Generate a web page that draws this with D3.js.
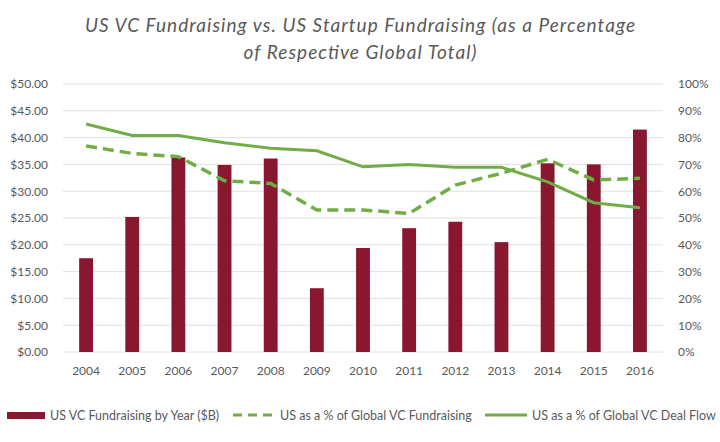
<!DOCTYPE html>
<html>
<head>
<meta charset="utf-8">
<script src="https://cdn.jsdelivr.net/npm/d3@7"></script>
<style>
  body { margin: 0; background: #fff; }
  svg { display: block; font-family: Lato, "Open Sans", sans-serif; }
</style>
</head>
<body>
<svg id="chart" width="720" height="442"></svg>
<script>
const years = ["2004", "2005", "2006", "2007", "2008", "2009", "2010", "2011", "2012", "2013", "2014", "2015", "2016"];
const vcFundraising = [17.5, 25.2, 36.3, 34.9, 36.1, 11.9, 19.4, 23.1, 24.3, 20.5, 35.2, 35.0, 41.5];
const pctGlobalFundraising = [76.9, 74.1, 72.9, 63.9, 62.9, 53.0, 53.0, 51.7, 62.3, 66.7, 71.9, 64.2, 64.8];
const pctGlobalDealFlow = [85.1, 80.8, 80.8, 78.1, 76.0, 75.1, 69.1, 70.0, 68.9, 68.9, 63.5, 55.7, 53.8];
const dollarTicks = [0, 5, 10, 15, 20, 25, 30, 35, 40, 45, 50];
const pctTicks = [0, 10, 20, 30, 40, 50, 60, 70, 80, 90, 100];
const titleLines = ["US VC Fundraising vs. US Startup Fundraising (as a Percentage", "of Respective Global Total)"];
const legendLabels = ["US VC Fundraising by Year ($B)", "US as a % of Global VC Fundraising", "US as a % of Global VC Deal Flow"];

const barColor = "#8a1730";
const green = "#70ad47";
const textColor = "#595959";

const margin = { top: 84, right: 57, bottom: 90, left: 63 };
const width = 720 - margin.left - margin.right;
const height = 442 - margin.top - margin.bottom;

const svg = d3.select("#chart");

// title: the original font is narrower, so stretch to the measured widths
const titleWidths = [550, 233];
svg.selectAll(".title")
  .data(titleLines)
  .enter()
  .append("text")
  .attr("class", "title")
  .attr("x", 360)
  .attr("y", (d, i) => 32 + i * 27)
  .attr("text-anchor", "middle")
  .attr("fill", textColor)
  .attr("textLength", (d, i) => titleWidths[i])
  .attr("lengthAdjust", "spacing")
  .style("font-style", "italic")
  .style("font-size", "19px")
  .text(d => d);

const g = svg.append("g").attr("transform", `translate(${margin.left},${margin.top})`);

const x = d3.scaleBand().domain(years).range([0, width]).paddingInner(0.7).paddingOuter(0.35);
const xPoint = d => x(d) + x.bandwidth() / 2;
const yLeft = d3.scaleLinear().domain([0, 50]).range([height, 0]);
const yRight = d3.scaleLinear().domain([0, 100]).range([height, 0]);

// gridlines
g.selectAll(".grid")
  .data(dollarTicks)
  .enter()
  .append("line")
  .attr("x1", 0)
  .attr("x2", width)
  .attr("y1", d => yLeft(d))
  .attr("y2", d => yLeft(d))
  .attr("stroke", "#e0e0e0")
  .attr("stroke-width", 1);

const styleAxis = sel => {
  sel.select(".domain").remove();
  sel.selectAll(".tick line").remove();
  sel.selectAll("text")
    .attr("fill", textColor)
    .style("font-size", "12px")
    .style("font-family", "Lato, 'Open Sans', sans-serif");
};

g.append("g")
  .call(d3.axisLeft(yLeft).tickValues(dollarTicks).tickFormat(d => "$" + d.toFixed(2)).tickSize(0).tickPadding(15))
  .call(styleAxis);

g.append("g")
  .attr("transform", `translate(${width},0)`)
  .call(d3.axisRight(yRight).tickValues(pctTicks).tickFormat(d => d + "%").tickSize(0).tickPadding(15))
  .call(styleAxis);

g.append("g")
  .attr("transform", `translate(0,${height})`)
  .call(d3.axisBottom(x).tickSize(0).tickPadding(14))
  .call(styleAxis);

// bars
g.selectAll(".bar")
  .data(years)
  .enter()
  .append("rect")
  .attr("class", "bar")
  .attr("x", d => x(d))
  .attr("width", x.bandwidth())
  .attr("y", (d, i) => yLeft(vcFundraising[i]))
  .attr("height", (d, i) => height - yLeft(vcFundraising[i]))
  .attr("fill", barColor);

const line = d3.line()
  .x((d, i) => xPoint(years[i]))
  .y(d => yRight(d));

g.append("path")
  .datum(pctGlobalFundraising)
  .attr("d", line)
  .attr("fill", "none")
  .attr("stroke", green)
  .attr("stroke-width", 3.5)
  .attr("stroke-dasharray", "11,6");

g.append("path")
  .datum(pctGlobalDealFlow)
  .attr("d", line)
  .attr("fill", "none")
  .attr("stroke", green)
  .attr("stroke-width", 3);

// legend
const legend = svg.append("g").attr("transform", "translate(0,415)");
const legendItems = [
  { label: legendLabels[0], type: "bar", x: 7, w: 38 },
  { label: legendLabels[1], type: "dash", x: 233, w: 42 },
  { label: legendLabels[2], type: "line", x: 485, w: 42 },
];

legendItems.forEach(item => {
  if (item.type === "bar") {
    legend.append("rect")
      .attr("x", item.x).attr("y", -3)
      .attr("width", item.w).attr("height", 7)
      .attr("fill", barColor);
  } else {
    legend.append("line")
      .attr("x1", item.x).attr("x2", item.x + item.w)
      .attr("y1", 0).attr("y2", 0)
      .attr("stroke", green)
      .attr("stroke-width", 3)
      .attr("stroke-dasharray", item.type === "dash" ? "9,6" : null);
  }
  legend.append("text")
    .attr("x", item.x + item.w + 5)
    .attr("y", 4.5)
    .attr("fill", textColor)
    .style("font-size", "12.5px")
    .text(item.label);
});
</script>
</body>
</html>
